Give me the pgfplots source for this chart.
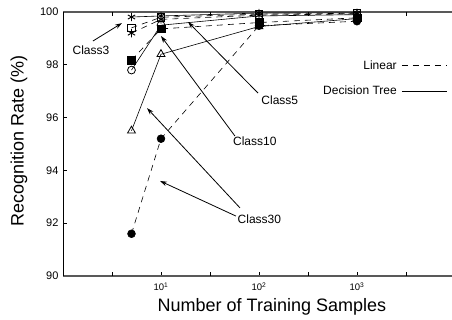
\documentclass[border=0pt]{standalone}
\usepackage{pgfplots}
\pgfplotsset{compat=1.18}
\usetikzlibrary{arrows.meta}
\usepackage{fontspec}
\setmainfont{Liberation Sans}
\begin{document}
\begin{tikzpicture}
\useasboundingbox (0,0) rectangle (452pt,320pt);
\begin{axis}[
  at={(63pt,44pt)}, anchor=south west,
  scale only axis, width=389pt, height=264pt,
  xmode=log, xmin=1, xmax=9330,
  ymin=90, ymax=100,
  ytick={90,92,94,96,98,100},
  xtick={10,100,1000},
  xticklabels={10\textsuperscript{1},10\textsuperscript{2},10\textsuperscript{3}},
  extra x ticks={3.1623,31.623,316.23,3162.3},
  extra x tick labels={},
  minor tick num=0,
  minor x tick style={draw=none},
  axis y line*=left, axis x line*=box,
  xtick pos=both, ytick pos=left,
  tick align=inside, major tick length=4pt,
  tick style={black, line width=0.6pt},
  x axis line style={gray!70!black, line width=1.1pt},
  y axis line style={black, line width=0.9pt},
  /pgf/number format/assume math mode=true,
  yticklabel style={font=\fontsize{11}{13}\selectfont, xshift=-1pt},
  xticklabel style={font=\fontsize{9.5}{11}\selectfont, yshift=-3pt},
  xlabel={Number of Training Samples},
  ylabel={Recognition Rate (\%)},
  label style={font=\fontsize{18}{20}\selectfont},
  xlabel style={at={(axis description cs:0.537,-0.117)}, anchor=center},
  ylabel style={at={(axis description cs:-0.113,0.511)}, anchor=center, rotate=0},
  clip=false,
]
% Class30 linear
\addplot[black, dash pattern=on 6pt off 5pt, line width=0.6pt, mark=*, mark size=3.9pt, mark options={solid, fill=black}]
  coordinates {(5,91.6) (10,95.2) (100,99.48) (1000,99.65)};
% Class30 tree
\addplot[black, solid, line width=0.6pt, mark=triangle, mark size=4.6pt, mark options={solid, fill=white, line width=0.8pt}]
  coordinates {(5,95.5) (10,98.4) (100,99.45) (1000,99.75)};
% Class10 linear
\addplot[black, dash pattern=on 6pt off 5pt, line width=0.6pt, mark=square*, mark size=3.9pt, mark options={solid, fill=black}]
  coordinates {(5,98.18) (10,99.36) (100,99.6) (1000,99.78)};
% Class10 tree
\addplot[black, solid, line width=0.6pt, mark=o, mark size=3.9pt, mark options={solid, fill=white, line width=0.8pt}]
  coordinates {(5,97.8) (10,99.5) (100,99.85) (1000,99.9)};
% Class5 linear
\addplot[black, dash pattern=on 6pt off 5pt, line width=0.6pt, mark=asterisk, mark size=4.2pt, mark options={solid, line width=0.9pt}]
  coordinates {(5,99.2) (10,99.72) (100,99.88) (1000,99.93)};
% Class3 linear
\addplot[black, dash pattern=on 6pt off 5pt, line width=0.6pt, mark=square, mark size=3.9pt, mark options={solid, fill=white, line width=0.8pt}]
  coordinates {(5,99.4) (10,99.8) (100,99.92) (1000,99.95)};
% Class3 tree
\addplot[black, solid, line width=0.6pt, mark=asterisk, mark size=4.2pt, mark options={solid, line width=0.9pt}]
  coordinates {(5,99.81) (10,99.85) (100,99.96) (1000,99.97)};

% annotations
\tikzset{ann/.style={font=\fontsize{12}{14}\selectfont, inner sep=1pt},
  arr/.style={-{Stealth[length=7pt,width=4.5pt]}, line width=0.8pt}}
\draw[arr] (axis cs:2.02,98.90) -- (axis cs:4.0,99.58);
\node[ann] at (axis cs:1.93,98.56) {Class3};
\draw[arr] (axis cs:97.7,96.93) -- (axis cs:18.9,99.62);
\node[ann, anchor=west] at (axis cs:103,96.67) {Class5};
\draw[arr] (axis cs:56.9,95.30) -- (axis cs:10.0,99.09);
\node[ann, anchor=west] at (axis cs:53,95.09) {Class10};
\draw[arr] (axis cs:64.0,92.58) -- (axis cs:7.2,96.36);
\draw[arr] (axis cs:58.2,92.27) -- (axis cs:9.77,93.60);
\node[ann, anchor=west] at (axis cs:59,92.16) {Class30};
% legend
\node[ann, anchor=east] at (axis cs:2620,97.99) {Linear};
\draw[dash pattern=on 6pt off 5pt, line width=0.8pt] (axis cs:2878,97.97) -- (axis cs:8285,97.97);
\node[ann, anchor=east] at (axis cs:2620,97.05) {Decision Tree};
\draw[line width=0.8pt] (axis cs:2878,97.01) -- (axis cs:8285,97.01);
\end{axis}
\end{tikzpicture}
\end{document}
